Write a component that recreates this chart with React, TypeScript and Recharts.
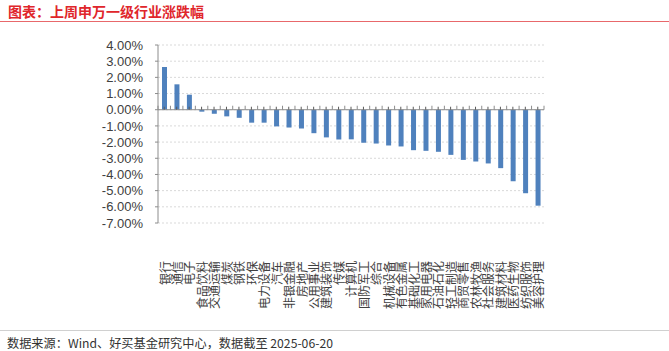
import { Bar, BarChart, CartesianGrid, ReferenceLine, XAxis, YAxis } from "recharts"

const industries = [
  "银行", "通信", "电子", "食品饮料", "交通运输", "煤炭", "钢铁", "环保",
  "电力设备", "汽车", "非银金融", "房地产", "公用事业", "建筑装饰", "传媒", "计算机",
  "国防军工", "综合", "机械设备", "有色金属", "基础化工", "家用电器", "石油石化", "轻工制造",
  "商贸零售", "农林牧渔", "社会服务", "建筑材料", "医药生物", "纺织服饰", "美容护理",
]

const changes = [
  2.64, 1.57, 0.93, -0.12, -0.25, -0.41, -0.5, -0.8,
  -0.8, -1.03, -1.1, -1.16, -1.45, -1.71, -1.84, -1.83,
  -2.04, -2.09, -2.21, -2.27, -2.5, -2.54, -2.6, -2.79,
  -3.1, -3.2, -3.32, -3.61, -4.42, -5.16, -5.93,
]

const yTicks = [-7, -6, -5, -4, -3, -2, -1, 0, 1, 2, 3, 4]

const data = industries.map((name, i) => ({ name, value: changes[i] }))

const CJK = '"Noto Sans CJK SC", "Noto Sans", sans-serif'

// 旋转的行业名称（自下而上阅读）
function CategoryTick(props: any) {
  const { x, y, payload } = props
  return (
    <g transform={`translate(${x + 1},${y + 38})`}>
      <text transform="rotate(-90)" textAnchor="end" dy="0.36em" fontSize={12} fill="#404040" fontFamily={CJK}>
        {payload.value}
      </text>
    </g>
  )
}

// 0 轴 + 刻度线
function ZeroAxis(props: any) {
  const { x1, y1, x2 } = props
  const n = data.length
  const step = (x2 - x1) / n
  const marks = []
  for (let i = 0; i <= n; i++) {
    marks.push(<line key={`b${i}`} x1={x1 + i * step} x2={x1 + i * step} y1={y1 - 4} y2={y1} stroke="#8c8c8c" />)
  }
  for (let i = 0; i < n; i++) {
    const cx = x1 + (i + 0.5) * step
    marks.push(<line key={`c${i}`} x1={cx} x2={cx} y1={y1 - 3} y2={y1} stroke="#595959" />)
  }
  return (
    <g>
      <line x1={x1} x2={x2} y1={y1} y2={y1} stroke="#8c8c8c" />
      {marks}
    </g>
  )
}

export default function App() {
  return (
    <div style={{ position: "absolute", left: 0, top: 0, width: 669, height: 351, background: "#fff", fontFamily: CJK }}>
      <div style={{ position: "absolute", left: 8, top: 2, fontSize: 14, fontWeight: 700, color: "#e0262b", lineHeight: "18px" }}>
        图表：上周申万一级行业涨跌幅
      </div>
      <div style={{ position: "absolute", left: 0, top: 21, width: 669, height: 1, background: "#e8686b" }} />

      <div style={{ position: "absolute", left: 0, top: 0 }}>
        <BarChart width={669} height={330} data={data} margin={{ top: 45, right: 125, left: 0, bottom: 47 }}>
          <CartesianGrid vertical={false} stroke="#d9d9d9" strokeDasharray="2 2" />
          <XAxis
            dataKey="name"
            interval={0}
            axisLine={false}
            tickLine={false}
            tickSize={0}
            tickMargin={0}
            height={60}
            tick={<CategoryTick />}
          />
          <YAxis
            domain={[-7, 4]}
            ticks={yTicks}
            interval={0}
            width={158}
            tickFormatter={(v: number) => `${v.toFixed(2)}%`}
            axisLine={{ stroke: "#8c8c8c" }}
            tickLine={{ stroke: "#8c8c8c" }}
            tickSize={3}
            tickMargin={12}
            tick={{ fontSize: 13, fill: "#404040", fontFamily: '"Liberation Sans", Arial, sans-serif' }}
          />
          <Bar dataKey="value" fill="#4f81bd" barSize={5} isAnimationActive={false} />
          <ReferenceLine y={0} shape={<ZeroAxis />} />
        </BarChart>
      </div>

      <div style={{ position: "absolute", left: 0, top: 330, width: 669, height: 1, background: "#d0d0d0" }} />
      <div style={{ position: "absolute", left: 7, top: 335, fontSize: 12.2, color: "#333", lineHeight: "16px", whiteSpace: "nowrap" }}>
        数据来源：Wind、好买基金研究中心，数据截至 2025-06-20
      </div>
    </div>
  )
}
